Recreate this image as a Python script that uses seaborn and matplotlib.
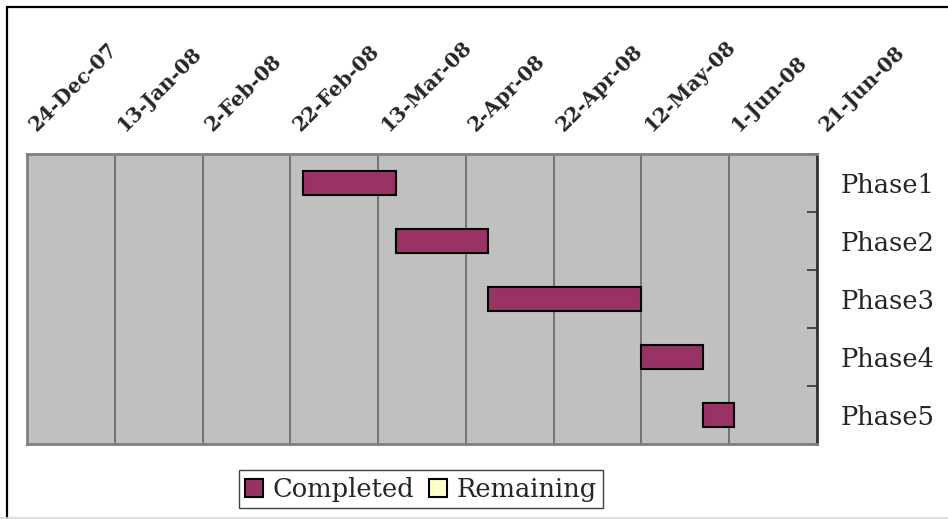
import matplotlib
matplotlib.use("Agg")
import matplotlib.pyplot as plt
import matplotlib.dates as mdates
from matplotlib.patches import Patch
from matplotlib.lines import Line2D
from matplotlib.transforms import ScaledTranslation
import seaborn as sns
import pandas as pd

# ---- data ----
phases = ["Phase1", "Phase2", "Phase3", "Phase4", "Phase5"]
start_dates = ["2008-02-25", "2008-03-17", "2008-04-07", "2008-05-12", "2008-05-26"]
completed_days = [21, 21, 35, 14, 7]
remaining_days = [0, 0, 0, 0, 0]
tick_dates = ["2007-12-24", "2008-01-13", "2008-02-02", "2008-02-22", "2008-03-13",
              "2008-04-02", "2008-04-22", "2008-05-12", "2008-06-01", "2008-06-21"]
tick_labels = ["24-Dec-07", "13-Jan-08", "2-Feb-08", "22-Feb-08", "13-Mar-08",
               "2-Apr-08", "22-Apr-08", "12-May-08", "1-Jun-08", "21-Jun-08"]
legend_labels = ["Completed", "Remaining"]
colors = ["#993366", "#FFFFCC"]

sns.set_style("white")
plt.rcParams["font.family"] = ["DejaVu Serif", "DejaVu Sans"]

W, H = 948, 519
fig = plt.figure(figsize=(W / 100, H / 100), dpi=100)
ax = fig.add_axes([27 / W, (H - 444) / H, (817 - 27) / W, (444 - 154) / H])
ax.set_facecolor("#C0C0C0")

starts = mdates.date2num(pd.to_datetime(start_dates).to_pydatetime())
df = pd.DataFrame({"phase": phases, "start": starts,
                   "completed": completed_days, "remaining": remaining_days})
df["rem_start"] = df["start"] + df["completed"]

sns.barplot(data=df, x="completed", y="phase", left=df["start"].to_numpy(),
            color=colors[0], saturation=1, width=0.41, errorbar=None,
            edgecolor="black", linewidth=1.5, ax=ax, zorder=3)
sns.barplot(data=df, x="remaining", y="phase", left=df["rem_start"].to_numpy(),
            color=colors[1], saturation=1, width=0.41, errorbar=None,
            edgecolor="black", linewidth=1.5, ax=ax, zorder=3)
for p in ax.containers[-1]:
    if p.get_width() == 0:
        p.set_visible(False)

tnum = mdates.date2num(pd.to_datetime(tick_dates).to_pydatetime())
ax.set_xlim(tnum[0], tnum[-1])
ax.set_ylim(4.5, -0.5)
ax.set_xticks(tnum)
ax.set_xticklabels(tick_labels)
ax.xaxis.tick_top()
ax.tick_params(axis="x", which="major", length=0, pad=16, labeltop=True,
               labelbottom=False, labelsize=14.5)
for lbl in ax.get_xticklabels():
    lbl.set_rotation(45)
    lbl.set_ha("left")
    lbl.set_va("baseline")
    lbl.set_rotation_mode("anchor")
    lbl.set_fontweight("bold")
    lbl.set_transform(lbl.get_transform() + ScaledTranslation(0.10, 0, fig.dpi_scale_trans))

ax.yaxis.tick_right()
ax.set_yticks(range(len(phases)))
ax.set_yticklabels(phases)
ax.set_yticks([i - 0.5 for i in range(len(phases) + 1)], minor=True)
ax.tick_params(axis="y", which="major", length=0, pad=17, labelsize=18.5,
               right=True, left=False, labelright=True, labelleft=False)
ax.tick_params(axis="y", which="minor", length=7, width=1.2, direction="in",
               color="#333333", right=True, left=False)
ax.set_xlabel("")
ax.set_ylabel("")

ax.grid(axis="x", color="#5E5E5E", linewidth=1.1, zorder=1)
ax.grid(axis="y", visible=False)
ax.set_axisbelow(True)
for side in ["left", "top", "bottom"]:
    ax.spines[side].set_color("#808080")
    ax.spines[side].set_linewidth(2)
    ax.spines[side].set_visible(True)
ax.spines["right"].set_color("#333333")
ax.spines["right"].set_linewidth(2)
ax.spines["right"].set_visible(True)

handles = [Patch(facecolor=c, edgecolor="black", linewidth=1.5) for c in colors]
leg = fig.legend(handles, legend_labels, loc="center",
                 bbox_to_anchor=(421 / W, (H - 489) / H), ncol=2,
                 fontsize=18.5, frameon=True, fancybox=False, framealpha=1,
                 edgecolor="#404040", handlelength=0.7, handleheight=0.7,
                 handletextpad=0.35, columnspacing=0.6, borderpad=0.25,
                 borderaxespad=0)
leg.get_frame().set_linewidth(1.0)

# chart frame
fig.add_artist(Line2D([6.5 / W, 6.5 / W], [0, 1 - 6.5 / H], color="black", linewidth=1.6,
                      transform=fig.transFigure))
fig.add_artist(Line2D([6.5 / W, 1], [1 - 6.5 / H, 1 - 6.5 / H], color="black", linewidth=1.6,
                      transform=fig.transFigure))
fig.add_artist(Line2D([0, 1], [0.8 / H, 0.8 / H], color="#D9D9D9", linewidth=1.2,
                      transform=fig.transFigure))

fig.savefig("out.png", dpi=100)
